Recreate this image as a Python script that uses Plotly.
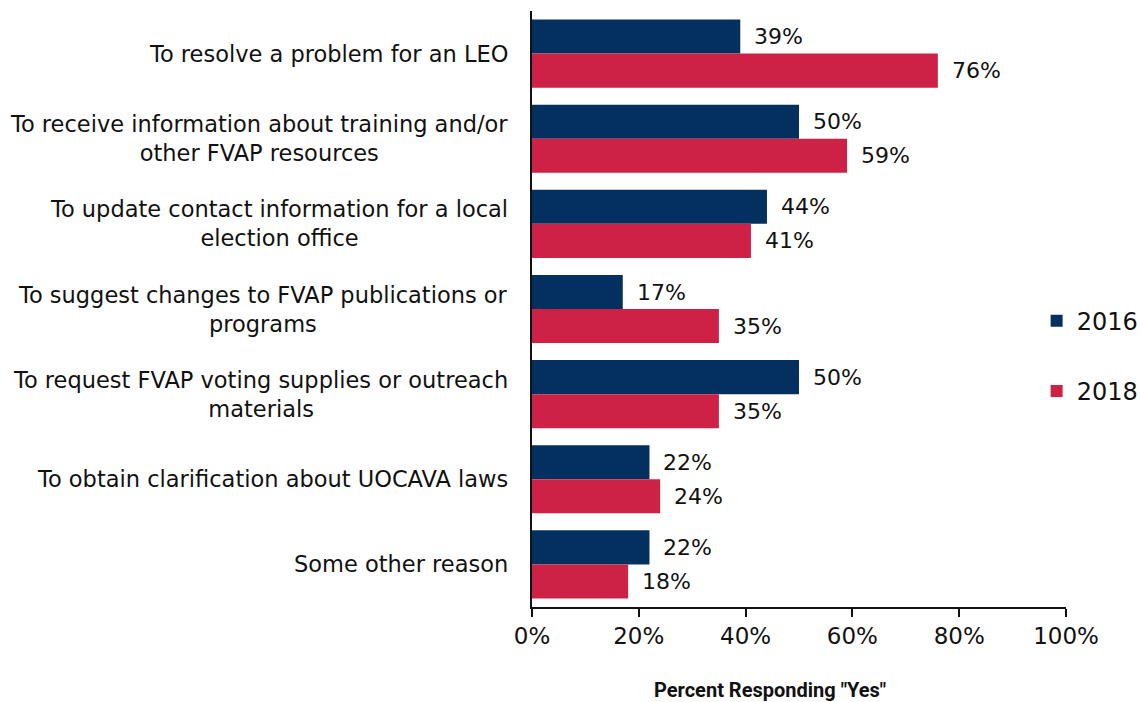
import plotly.graph_objects as go

# Survey responses: reasons for contacting FVAP
categories = [
    "To resolve a problem for an LEO",
    "To receive information about training and/or<br>other FVAP resources",
    "To update contact information for a local<br>election office",
    "To suggest changes to FVAP publications or<br>programs",
    "To request FVAP voting supplies or outreach<br>materials",
    "To obtain clarification about UOCAVA laws",
    "Some other reason",
]
values_2016 = [39, 50, 44, 17, 50, 22, 22]
values_2018 = [76, 59, 41, 35, 35, 24, 18]
x_ticks = [0, 20, 40, 60, 80, 100]
x_tick_labels = ["0%", "20%", "40%", "60%", "80%", "100%"]

NAVY = "#03305F"
RED = "#CD2246"
FONT = "DejaVu Sans, Liberation Sans, sans-serif"
TEXT = "#111111"

fig = go.Figure()
fig.add_trace(go.Bar(
    name="2016", y=categories, x=values_2016, orientation="h",
    marker=dict(color=NAVY, line=dict(width=0)), legendgroup="a",
))
fig.add_trace(go.Bar(
    name="2018", y=categories, x=values_2018, orientation="h",
    marker=dict(color=RED, line=dict(width=0)), legendgroup="b",
))

# value labels to the right of each bar
annotations = []
for vals, shift in ((values_2016, -17), (values_2018, 17)):
    for cat, v in zip(categories, vals):
        annotations.append(dict(
            x=v, y=cat, xref="x", yref="y", text=f"{v}%", showarrow=False,
            xanchor="left", xshift=12, yshift=-shift,
            font=dict(family=FONT, size=22, color=TEXT),
        ))

# category labels, centred lines, right edge near the axis
for cat in categories:
    annotations.append(dict(
        x=0, y=cat, xref="paper", yref="y", text=cat, showarrow=False,
        xanchor="right", xshift=-22, align="center",
        font=dict(family=FONT, size=22.5, color=TEXT),
    ))

# axis title, set slightly left of the plot centre
annotations.append(dict(
    x=0.445, y=0, xref="paper", yref="paper", yanchor="middle", yshift=-83,
    text="<b>Percent Responding \"Yes\"</b>", showarrow=False,
    font=dict(family="Roboto, sans-serif", size=20, color=TEXT),
))

fig.update_layout(
    width=1140, height=702,
    margin=dict(l=532, r=74, t=11, b=95, autoexpand=False),
    paper_bgcolor="white", plot_bgcolor="white",
    barmode="group", bargap=0.2, bargroupgap=0,
    font=dict(family=FONT, size=22, color=TEXT),
    annotations=annotations,
    legend=dict(
        x=0.945, y=0.421, xanchor="left", yanchor="middle",
        tracegroupgap=36, itemwidth=30, traceorder="grouped",
        font=dict(family=FONT, size=24, color=TEXT),
        bgcolor="rgba(0,0,0,0)",
    ),
    showlegend=True,
)
fig.update_xaxes(
    range=[0, 100], tickvals=x_ticks, ticktext=x_tick_labels,
    showgrid=False, zeroline=False, showline=True, linecolor=TEXT, linewidth=1.5,
    ticks="outside", ticklen=8, tickcolor=TEXT, tickwidth=1.5,
    tickfont=dict(family=FONT, size=23, color=TEXT),
)
fig.update_yaxes(
    autorange="reversed", showticklabels=False, showgrid=False, zeroline=False,
    showline=True, linecolor=TEXT, linewidth=1.5, ticks="",
)

fig.write_html("out.html")
